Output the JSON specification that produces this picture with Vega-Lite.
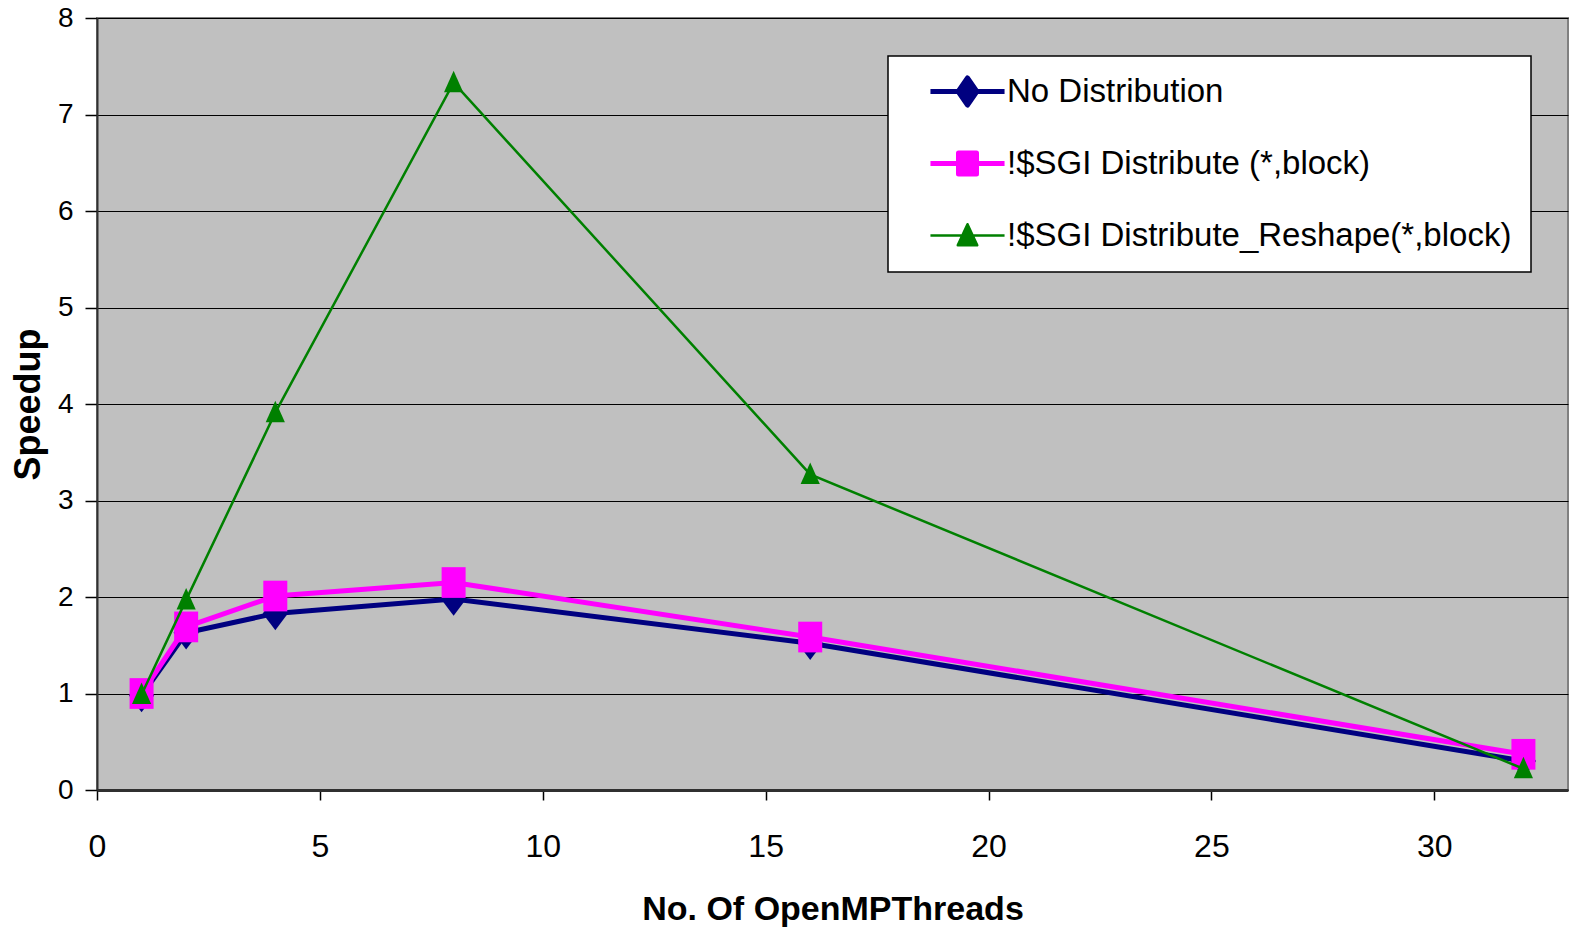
{
  "$schema": "https://vega.github.io/schema/vega-lite/v6.json",
  "width": 1471,
  "height": 772,
  "autosize": {"type": "none"},
  "padding": {"left": 97, "top": 18, "right": 2, "bottom": 142},
  "background": "white",
  "config": {
    "view": {"fill": "#C0C0C0", "stroke": "#808080", "strokeWidth": 2},
    "font": "Liberation Sans",
    "axis": {"labelFont": "Liberation Sans", "titleFont": "Liberation Sans", "labelColor": "black", "titleColor": "black", "tickColor": "black", "domainColor": "#303030"},
    "legend": {"strokeWidth": 1.5}
  },
  "data": {
    "values": [
      {"series": "No Distribution", "threads": 1, "speedup": 0.98},
      {"series": "No Distribution", "threads": 2, "speedup": 1.63},
      {"series": "No Distribution", "threads": 4, "speedup": 1.83},
      {"series": "No Distribution", "threads": 8, "speedup": 1.98},
      {"series": "No Distribution", "threads": 16, "speedup": 1.52},
      {"series": "No Distribution", "threads": 32, "speedup": 0.3},
      {"series": "!$SGI Distribute (*,block)", "threads": 1, "speedup": 1.0},
      {"series": "!$SGI Distribute (*,block)", "threads": 2, "speedup": 1.69},
      {"series": "!$SGI Distribute (*,block)", "threads": 4, "speedup": 2.01},
      {"series": "!$SGI Distribute (*,block)", "threads": 8, "speedup": 2.15},
      {"series": "!$SGI Distribute (*,block)", "threads": 16, "speedup": 1.585},
      {"series": "!$SGI Distribute (*,block)", "threads": 32, "speedup": 0.37},
      {"series": "!$SGI Distribute_Reshape(*,block)", "threads": 1, "speedup": 0.99},
      {"series": "!$SGI Distribute_Reshape(*,block)", "threads": 2, "speedup": 1.97},
      {"series": "!$SGI Distribute_Reshape(*,block)", "threads": 4, "speedup": 3.91},
      {"series": "!$SGI Distribute_Reshape(*,block)", "threads": 8, "speedup": 7.33},
      {"series": "!$SGI Distribute_Reshape(*,block)", "threads": 16, "speedup": 3.27},
      {"series": "!$SGI Distribute_Reshape(*,block)", "threads": 32, "speedup": 0.22}
    ]
  },
  "encoding": {
    "x": {
      "field": "threads", "type": "quantitative",
      "scale": {"domain": [0, 33], "nice": false, "zero": false},
      "axis": {"title": "No. Of  OpenMPThreads", "values": [0, 5, 10, 15, 20, 25, 30], "grid": false, "labelFontSize": 32, "tickSize": 10, "tickWidth": 1.5, "labelPadding": 31, "titleFontSize": 34, "titleFontWeight": "bold", "titlePadding": 30, "domainWidth": 3, "labelFlush": false}
    },
    "y": {
      "field": "speedup", "type": "quantitative",
      "scale": {"domain": [0, 8], "nice": false},
      "axis": {"title": "Speedup", "values": [0, 1, 2, 3, 4, 5, 6, 7, 8], "grid": true, "gridColor": "black", "gridWidth": 1.2, "gridOpacity": 1, "labelFontSize": 28, "tickSize": 12, "tickWidth": 1.5, "labelPadding": 12, "titleFontSize": 36, "titleFontWeight": "bold", "titlePadding": 10, "domainWidth": 2, "labelFlush": false}
    },
    "color": {
      "field": "series", "type": "nominal",
      "scale": {"domain": ["No Distribution", "!$SGI Distribute (*,block)", "!$SGI Distribute_Reshape(*,block)"], "range": ["#000080", "#FF00FF", "#008000"]},
      "legend": {
        "title": null, "orient": "none", "legendX": 791, "legendY": 38,
        "fillColor": "white", "strokeColor": "black",
        "padding": 19, "labelFontSize": 33, "labelFont": "Liberation Sans", "labelColor": "black", "labelLimit": 800,
        "symbolSize": 900, "symbolOffset": 44, "labelOffset": 23, "rowPadding": 38,
        "labelExpr": "datum.label + '\u00a0\u00a0\u00a0'",
        "encode": {
          "symbols": {
            "update": {
              "shape": {"signal": "datum.value === 'No Distribution' ? 'M-2.47,0 L2.47,0 M0,-0.9 L0.62,0 L0,0.9 L-0.62,0 Z' : (datum.value === '!$SGI Distribute (*,block)' ? 'M-2.47,0 L2.47,0 M-0.6,-0.7 L0.6,-0.7 L0.6,0.7 L-0.6,0.7 Z' : 'M-2.47,0 L2.47,0 M0,-0.75 L0.65,0.65 L-0.65,0.65 Z')"},
              "strokeWidth": {"signal": "datum.value === '!$SGI Distribute_Reshape(*,block)' ? 2.5 : 5"},
              "strokeJoin": {"value": "round"},
              "size": {"value": 900},
              "fill": {"scale": "color", "field": "value"},
              "stroke": {"scale": "color", "field": "value"},
              "opacity": {"value": 1},
              "fillOpacity": {"value": 1},
              "strokeOpacity": {"value": 1}
            }
          }
        }
      }
    }
  },
  "layer": [
    {
      "transform": [{"filter": "datum.series === 'No Distribution'"}],
      "mark": {"type": "line", "strokeWidth": 5}
    },
    {
      "transform": [{"filter": "datum.series === 'No Distribution'"}],
      "mark": {"type": "point", "filled": true, "opacity": 1, "size": 576, "shape": "M0,-1.4 L1.05,0 L0,1.4 L-1.05,0 Z"}
    },
    {
      "transform": [{"filter": "datum.series === '!$SGI Distribute (*,block)'"}],
      "mark": {"type": "line", "strokeWidth": 5}
    },
    {
      "transform": [{"filter": "datum.series === '!$SGI Distribute (*,block)'"}],
      "mark": {"type": "point", "filled": true, "opacity": 1, "size": 576, "shape": "M-1,-1.28 L1,-1.28 L1,1.28 L-1,1.28 Z"}
    },
    {
      "transform": [{"filter": "datum.series === '!$SGI Distribute_Reshape(*,block)'"}],
      "mark": {"type": "line", "strokeWidth": 2.5}
    },
    {
      "transform": [{"filter": "datum.series === '!$SGI Distribute_Reshape(*,block)'"}],
      "mark": {"type": "point", "filled": true, "opacity": 1, "size": 576, "shape": "M0,-1 L0.8,0.8 L-0.8,0.8 Z"}
    }
  ]
}
